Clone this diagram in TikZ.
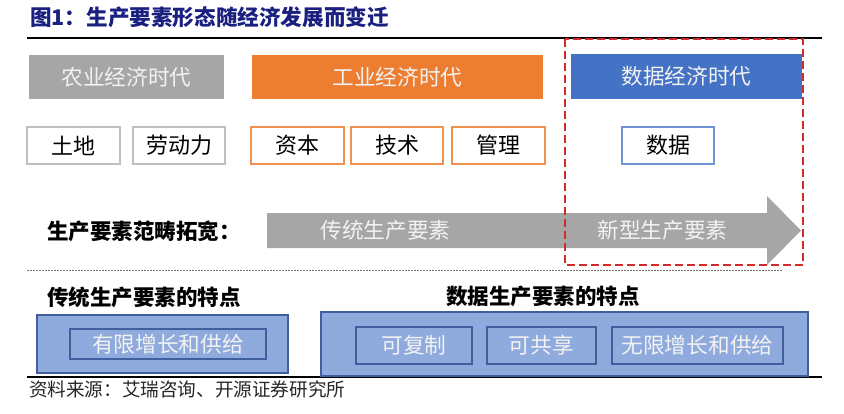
\documentclass[tikz,border=0pt]{standalone}
\usepackage{fontspec}
\setmainfont{Noto Sans CJK SC}
\definecolor{eragray}{HTML}{A6A6A6}
\definecolor{eraorange}{HTML}{ED7D31}
\definecolor{erablue}{HTML}{4472C4}
\definecolor{facgray}{HTML}{BFBFBF}
\definecolor{facorange}{HTML}{F0914F}
\definecolor{facblue}{HTML}{7094D4}
\definecolor{featfill}{HTML}{8FAADC}
\definecolor{featdraw}{HTML}{3F5F9F}
\definecolor{titleblue}{HTML}{1A2080}
\definecolor{dashred}{HTML}{D42A2A}
\definecolor{lighttext}{HTML}{F2F2F2}
\tikzset{
  era/.style={inner sep=0pt, minimum height=44, text=lighttext, font=\fontsize{21.7}{24}\selectfont},
  fac/.style={draw, line width=1.2pt, fill=white, inner sep=0pt, minimum height=37, font=\fontsize{22}{24}\selectfont},
  outerfeat/.style={draw=featdraw, line width=1.2pt, fill=featfill, inner sep=0pt},
  innerfeat/.style={draw=featdraw, line width=1.5pt, fill=featfill, inner sep=0pt, text=lighttext, font=\fontsize{21.7}{24}\selectfont},
  boldlabel/.style={anchor=west, inner sep=0pt, font=\fontsize{21.5}{24}\selectfont\bfseries},
}
\begin{document}
\begin{tikzpicture}[x=1pt,y=-1pt]
\useasboundingbox (0,0) rectangle (844,413);
% title and rules
\node[anchor=west, inner sep=0pt, text=titleblue, font=\fontsize{21.6}{24}\selectfont\bfseries] (title) at (30,17) {图1：生产要素形态随经济发展而变迁};
\draw[line width=1.2pt] (27,38) -- (822,38);
\draw[line width=1.2pt] (27,377) -- (822,377);
\node[anchor=west, inner sep=0pt, text=black!85, font=\fontsize{18.6}{20}\selectfont] (source) at (29,389) {资料来源：艾瑞咨询、开源证券研究所};
% eras
\node[era, fill=eragray, minimum width=195] (agri) at (126.5,77) {农业经济时代};
\node[era, fill=eraorange, minimum width=291] (ind) at (397.5,77) {工业经济时代};
\node[era, fill=erablue, minimum width=231, minimum height=45] (dataera) at (686.5,76.5) {数据经济时代};
% factors
\node[fac, draw=facgray, minimum width=93] (land) at (73.5,145.5) {土地};
\node[fac, draw=facgray, minimum width=92] (labor) at (179,145.5) {劳动力};
\node[fac, draw=facorange, minimum width=93] (capital) at (297.5,145.5) {资本};
\node[fac, draw=facorange, minimum width=92] (tech) at (397,145.5) {技术};
\node[fac, draw=facorange, minimum width=93] (mgmt) at (498.5,145.5) {管理};
\node[fac, draw=facblue, minimum width=92] (data) at (668,145.5) {数据};
% arrow
\fill[eragray] (267,213) -- (767,213) -- (767,196) -- (801,230.5) -- (767,265) -- (767,248) -- (267,248) -- cycle;
\node[inner sep=0pt, text=lighttext, font=\fontsize{21.7}{24}\selectfont] (trad) at (385.5,230.5) {传统生产要素};
\node[inner sep=0pt, text=lighttext, font=\fontsize{21.7}{24}\selectfont] (newf) at (662.5,230.5) {新型生产要素};
\node[boldlabel] (expand) at (47,231) {生产要素范畴拓宽：};
% red dashed frame
\draw[dashred, line width=1.6pt, dash pattern=on 8pt off 4pt] (565,39) rectangle (803,265);
% dotted separator
\draw[black!55, line width=0.6pt, dash pattern=on 1.5pt off 1.5pt] (27,270) -- (783,270);
% features
\node[boldlabel] (tradlab) at (47,297) {传统生产要素的特点};
\node[boldlabel] (datalab) at (446,296) {数据生产要素的特点};
\node[outerfeat, minimum width=251, minimum height=58] (tradbox) at (162.5,344) {};
\node[innerfeat, minimum width=196, minimum height=30] (limited) at (168,344) {有限增长和供给};
\node[outerfeat, minimum width=487, minimum height=64] (databox) at (564.5,344) {};
\node[innerfeat, minimum width=116, minimum height=37] (copy) at (414,345.5) {可复制};
\node[innerfeat, minimum width=109, minimum height=37] (share) at (541.5,345.5) {可共享};
\node[innerfeat, minimum width=171, minimum height=37] (unlimited) at (697.5,345.5) {无限增长和供给};
\end{tikzpicture}
\end{document}
